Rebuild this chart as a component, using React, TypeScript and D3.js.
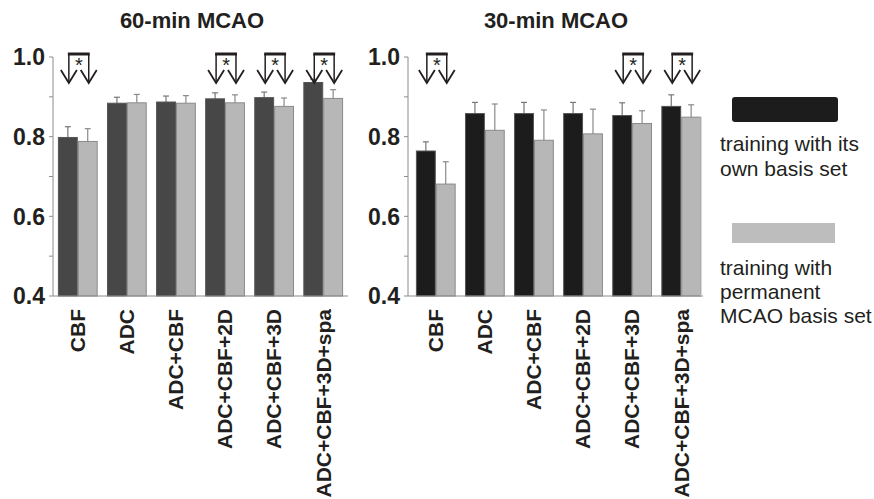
import { useRef, useEffect } from 'react';
import * as d3 from 'd3';

// feature sets on the x axis
const categories = ['CBF', 'ADC', 'ADC+CBF', 'ADC+CBF+2D', 'ADC+CBF+3D', 'ADC+CBF+3D+spa'];

// 60-min MCAO
const own60 = [0.798, 0.884, 0.887, 0.895, 0.898, 0.936];
const own60Err = [0.027, 0.015, 0.015, 0.015, 0.014, 0.008];
const perm60 = [0.788, 0.885, 0.884, 0.885, 0.876, 0.896];
const perm60Err = [0.032, 0.021, 0.019, 0.02, 0.021, 0.022];
const sig60 = [0, 3, 4, 5];

// 30-min MCAO
const own30 = [0.764, 0.858, 0.858, 0.858, 0.853, 0.876];
const own30Err = [0.023, 0.028, 0.028, 0.028, 0.032, 0.029];
const perm30 = [0.681, 0.816, 0.791, 0.807, 0.833, 0.849];
const perm30Err = [0.056, 0.066, 0.076, 0.062, 0.032, 0.031];
const sig30 = [0, 4, 5];

const yTicks = [0.4, 0.6, 0.8, 1.0];
const yMinorTicks = [0.5, 0.7, 0.9];

const legendOwn = ['training with its', 'own basis set'];
const legendPerm = ['training with', 'permanent', 'MCAO basis set'];

const FONT = '"Liberation Sans", Arial, Helvetica, sans-serif';

export default function App() {
  const svgRef = useRef<SVGSVGElement>(null);

  useEffect(() => {
    document.body.style.margin = '0';
    if (!svgRef.current) return;
    const svg = d3.select(svgRef.current);
    svg.selectAll('*').remove();

    const yScale = d3.scaleLinear().domain([0.4, 1.0]).range([296, 57]);

    const panels = [
      { title: '60-min MCAO', own: own60, ownErr: own60Err, perm: perm60, permErr: perm60Err, sig: sig60,
        axisX: 53, endX: 348, range: [53, 348], ownColor: '#474747', titleX: 192 },
      { title: '30-min MCAO', own: own30, ownErr: own30Err, perm: perm30, permErr: perm30Err, sig: sig30,
        axisX: 408, endX: 703, range: [411, 706], ownColor: '#1c1c1c', titleX: 556 }
    ];

    panels.forEach(p => {
      const g = svg.append('g');
      const x0 = d3.scaleBand<string>()
        .domain(categories)
        .range(p.range as [number, number])
        .paddingInner(0.19)
        .paddingOuter(0.1);
      const x1 = d3.scaleBand<string>()
        .domain(['own', 'perm'])
        .range([0, x0.bandwidth()]);

      // title
      g.append('text')
        .attr('x', p.titleX)
        .attr('y', 28)
        .attr('text-anchor', 'middle')
        .attr('font-family', FONT)
        .attr('font-weight', 'bold')
        .attr('font-size', '22px')
        .attr('fill', '#231f20')
        .text(p.title);

      // bars + error bars
      categories.forEach((c, i) => {
        const series = [
          { key: 'own', v: p.own[i], e: p.ownErr[i], fill: p.ownColor, stroke: '#555', err: '#777' },
          { key: 'perm', v: p.perm[i], e: p.permErr[i], fill: '#b7b7b7', stroke: '#8a8a8a', err: '#8a8a8a' }
        ];
        series.forEach(s => {
          const bx = (x0(c) ?? 0) + (x1(s.key) ?? 0);
          const cx = bx + x1.bandwidth() / 2;
          g.append('line')
            .attr('x1', cx).attr('x2', cx)
            .attr('y1', yScale(s.v)).attr('y2', yScale(s.v + s.e))
            .attr('stroke', s.err).attr('stroke-width', 1.2);
          g.append('line')
            .attr('x1', cx - 3).attr('x2', cx + 3)
            .attr('y1', yScale(s.v + s.e)).attr('y2', yScale(s.v + s.e))
            .attr('stroke', s.err).attr('stroke-width', 1.2);
          g.append('rect')
            .attr('x', bx + 0.5)
            .attr('y', yScale(s.v))
            .attr('width', x1.bandwidth() - 1)
            .attr('height', yScale(0.4) - yScale(s.v))
            .attr('fill', s.fill)
            .attr('stroke', s.stroke)
            .attr('stroke-width', 1);
        });
      });

      // y axis
      g.append('line')
        .attr('x1', p.axisX).attr('x2', p.axisX)
        .attr('y1', yScale(1.0)).attr('y2', yScale(0.4))
        .attr('stroke', '#8c8c8c').attr('stroke-width', 1);
      g.append('line')
        .attr('x1', p.axisX).attr('x2', p.endX)
        .attr('y1', yScale(0.4)).attr('y2', yScale(0.4))
        .attr('stroke', '#8c8c8c').attr('stroke-width', 1);
      [...yTicks, ...yMinorTicks].forEach(t => {
        g.append('line')
          .attr('x1', p.axisX - 4).attr('x2', p.axisX)
          .attr('y1', yScale(t)).attr('y2', yScale(t))
          .attr('stroke', '#8c8c8c').attr('stroke-width', 1);
      });
      yTicks.forEach(t => {
        g.append('text')
          .attr('x', p.axisX - 8)
          .attr('y', yScale(t))
          .attr('dy', '0.36em')
          .attr('text-anchor', 'end')
          .attr('font-family', FONT)
          .attr('font-weight', 'bold')
          .attr('font-size', '23px')
          .attr('fill', '#231f20')
          .text(d3.format('.1f')(t));
      });

      // x labels
      categories.forEach(c => {
        const cx = (x0(c) ?? 0) + x0.bandwidth() / 2;
        g.append('text')
          .attr('transform', `translate(${cx},309) rotate(-90)`)
          .attr('dy', '0.35em')
          .attr('text-anchor', 'end')
          .attr('font-family', FONT)
          .attr('font-weight', 'bold')
          .attr('font-size', '21px')
          .attr('fill', '#231f20')
          .text(c);
      });

      // significance markers
      const top = yScale(1.0) - 3;
      const tip = yScale(1.0) + 26;
      p.sig.forEach(i => {
        const c = categories[i];
        const xa = (x0(c) ?? 0) + (x1('own') ?? 0) + x1.bandwidth() / 2 + 1;
        const xb = (x0(c) ?? 0) + (x1('perm') ?? 0) + x1.bandwidth() / 2 + 1;
        const m = g.append('g')
          .attr('stroke', '#231f20')
          .attr('fill', 'none');
        m.append('line')
          .attr('x1', xa - 1).attr('x2', xb + 1)
          .attr('y1', top).attr('y2', top)
          .attr('stroke-width', 3);
        [xa, xb].forEach(ax => {
          m.append('line')
            .attr('x1', ax).attr('x2', ax)
            .attr('y1', top).attr('y2', tip)
            .attr('stroke-width', 1.5);
          m.append('path')
            .attr('d', `M${ax - 8},${tip - 13} L${ax},${tip} L${ax + 8},${tip - 13}`)
            .attr('stroke-width', 1.8);
        });
        g.append('text')
          .attr('x', (xa + xb) / 2)
          .attr('y', top + 18)
          .attr('text-anchor', 'middle')
          .attr('font-family', FONT)
          .attr('font-size', '20px')
          .attr('fill', '#231f20')
          .text('*');
      });
    });

    // right border stub of the 30-min panel
    svg.append('line')
      .attr('x1', 701).attr('x2', 701)
      .attr('y1', 117).attr('y2', 296)
      .attr('stroke', '#c4c4c4').attr('stroke-width', 1.2);

    // legend
    const lg = svg.append('g')
      .attr('font-family', FONT)
      .attr('font-size', '21px')
      .attr('fill', '#231f20');
    lg.append('rect')
      .attr('x', 732).attr('y', 97)
      .attr('width', 106).attr('height', 25)
      .attr('rx', 3)
      .attr('fill', '#1c1c1c');
    lg.append('rect')
      .attr('x', 732).attr('y', 223)
      .attr('width', 103).attr('height', 20)
      .attr('fill', '#bdbdbd');
    legendOwn.forEach((t, i) => {
      lg.append('text').attr('x', 720).attr('y', 151 + i * 25).text(t);
    });
    legendPerm.forEach((t, i) => {
      lg.append('text').attr('x', 720).attr('y', 275 + i * 24).text(t);
    });
  }, []);

  return (
    <svg
      ref={svgRef}
      width={874}
      height={499}
      style={{ display: 'block', background: '#fff' }}
    />
  );
}
